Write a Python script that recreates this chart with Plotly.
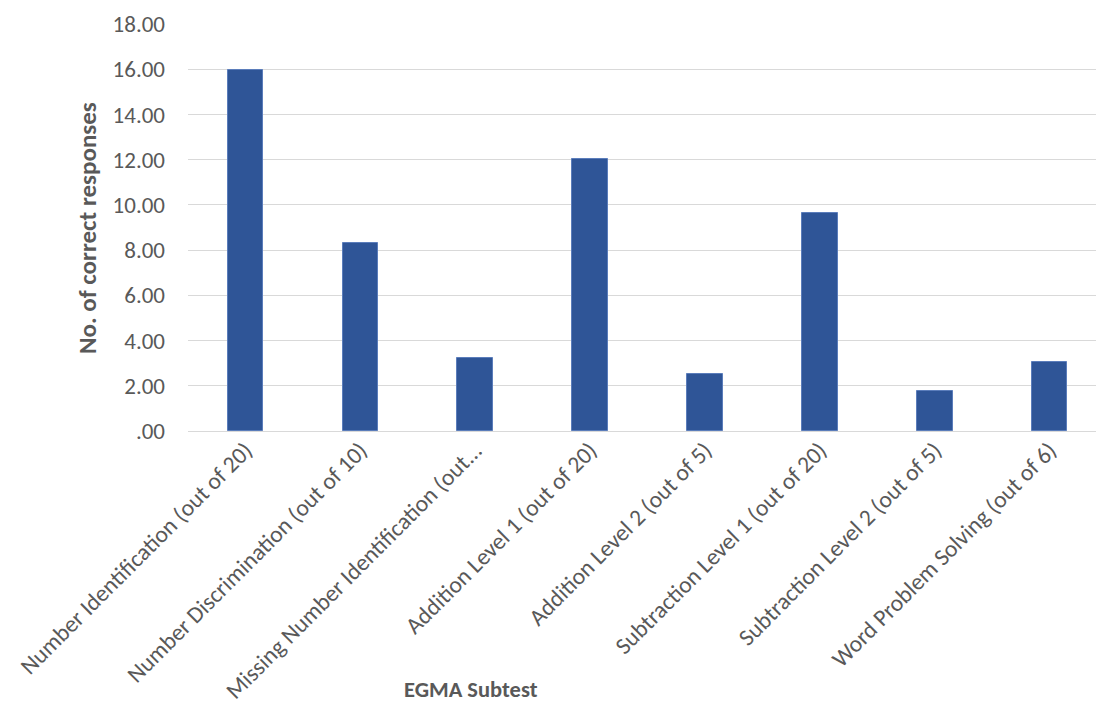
import plotly.graph_objects as go

# EGMA subtest mean scores
subtests = [
    "Number Identification (out of 20)",
    "Number Discrimination (out of 10)",
    "Missing Number Identification (out...",
    "Addition Level 1 (out of 20)",
    "Addition Level 2 (out of 5)",
    "Subtraction Level 1 (out of 20)",
    "Subtraction Level 2 (out of 5)",
    "Word Problem Solving (out of 6)",
]
mean_correct = [15.96, 8.32, 3.22, 12.01, 2.54, 9.62, 1.79, 3.07]

y_tick_vals = [0, 2, 4, 6, 8, 10, 12, 14, 16, 18]
y_tick_text = [".00", "2.00", "4.00", "6.00", "8.00", "10.00", "12.00", "14.00", "16.00", "18.00"]

W, H = 1096, 704
ML, MR, MT, MB = 188, 0, 24, 273
FONT = "Calibri, Carlito, Lato, sans-serif"
TXT = "#595959"

fig = go.Figure(
    go.Bar(
        x=list(range(len(subtests))),
        y=mean_correct,
        width=0.31,
        marker=dict(color="#2F5597", line=dict(color="#5B7DBB", width=1)),
    )
)

plot_w = W - ML - MR
plot_h = H - MT - MB

fig.update_layout(
    width=W,
    height=H,
    margin=dict(l=ML, r=MR, t=MT, b=MB, pad=0, autoexpand=False),
    paper_bgcolor="white",
    plot_bgcolor="white",
    showlegend=False,
    font=dict(family=FONT, color=TXT),
    bargap=0,
    xaxis=dict(
        range=[-0.5, 7.404],
        tickmode="array",
        tickvals=list(range(len(subtests))),
        ticktext=subtests,
        tickangle=-45,
        tickfont=dict(size=23.5, color=TXT, family=FONT),
        showgrid=False,
        zeroline=False,
        showline=False,
        ticks="",
        fixedrange=True,
    ),
    yaxis=dict(
        range=[0, 18],
        tickmode="array",
        tickvals=y_tick_vals,
        ticktext=y_tick_text,
        tickfont=dict(size=23, color=TXT, family=FONT),
        showgrid=True,
        gridcolor="#D9D9D9",
        gridwidth=1.3,
        zeroline=True,
        zerolinecolor="#D9D9D9",
        zerolinewidth=1.3,
        showline=False,
        ticks="",
        ticklabelstandoff=22,
        fixedrange=True,
    ),
    annotations=[
        dict(
            text="<b>No. of correct responses</b>",
            xref="paper", yref="paper",
            x=(88 - ML) / plot_w, y=(H - MB - 228) / plot_h,
            xanchor="center", yanchor="middle",
            textangle=-90, showarrow=False,
            font=dict(size=25, color=TXT, family=FONT),
        ),
        dict(
            text="<b>EGMA Subtest</b>",
            xref="paper", yref="paper",
            x=(471 - ML) / plot_w, y=-(689 - (H - MB)) / plot_h,
            xanchor="center", yanchor="middle",
            showarrow=False,
            font=dict(size=22.5, color=TXT, family=FONT),
        ),
    ],
)

fig.write_html("out.html")
